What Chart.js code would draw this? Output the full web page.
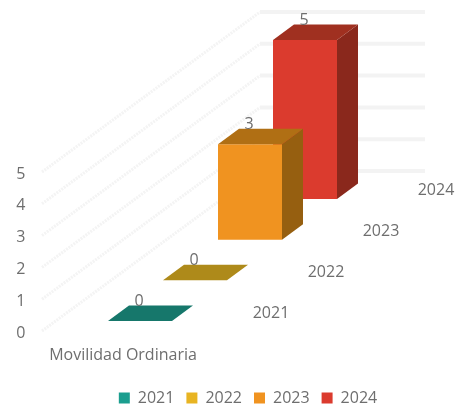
<!DOCTYPE html>
<html lang="es">
<head>
    <meta charset="UTF-8">
    <title>Movilidad Ordinaria</title>
    <script src="https://cdn.jsdelivr.net/npm/chart.js"></script>
    <style>
        body { margin: 0; background: #fff; }
        canvas { display: block; filter: blur(0.4px); }
    </style>
</head>
<body>
<canvas id="grafico" width="460" height="405"></canvas>
<script>
    const categoria = 'Movilidad Ordinaria';
    const anios = ['2021', '2022', '2023', '2024'];
    const valores = [0, 0, 3, 5];
    const colorFrente = ['#1b9e8f', '#e8b422', '#f09320', '#db3b2e'];
    const colorTapa = ['#16776b', '#ae8a1a', '#b06f14', '#a03020'];
    const colorLado = ['#116055', '#8c6f14', '#965f10', '#8a281c'];

    const fuente = '"Open Sans", sans-serif';
    const gris = '#6e6e6e';

    // profundidad del piso por cada anio, en px
    const pasoY = 40.67;
    const inicioY = 10;
    const fondoCaja = { x: 21, y: 15.5 };
    const fondoPiso = { x: 218, y: 160 };

    function desplazamiento(i) {
        return inicioY + pasoY * i;
    }

    const cubos = {
        id: 'cubos',
        afterLayout(chart) {
            // la leyenda va centrada bajo el grafico, no bajo el canvas
            chart.legend.left = 36;
            chart.legend.top = 378;
            chart.legend.bottom = 416;
            // el eje y ocupa de 172 a 331 aunque el layout lo deje mas corto
            const y = chart.scales.y;
            y.top = 172;
            y.bottom = 331;
            y.height = 159;
            y.configure();
            chart.chartArea.bottom = 331;
            chart.chartArea.height = 159;
        },
        beforeDatasetsDraw(chart) {
            const { ctx, scales: { y } } = chart;
            const x0 = 42;
            ctx.save();
            y.ticks.forEach(t => {
                const py = y.getPixelForValue(t.value);
                // linea del piso lateral, punteada y muy clara
                ctx.strokeStyle = '#f4f4f4';
                ctx.lineWidth = 3;
                ctx.setLineDash([2, 1]);
                ctx.beginPath();
                ctx.moveTo(x0, py);
                ctx.lineTo(x0 + fondoPiso.x, py - fondoPiso.y);
                ctx.stroke();
                // linea de la pared del fondo
                ctx.strokeStyle = '#f3f3f3';
                ctx.lineWidth = 4;
                ctx.setLineDash([]);
                ctx.beginPath();
                ctx.moveTo(x0 + fondoPiso.x, py - fondoPiso.y);
                ctx.lineTo(425, py - fondoPiso.y);
                ctx.stroke();
            });
            ctx.restore();
        },
        beforeDatasetDraw(chart, args) {
            chart.ctx.save();
            chart.ctx.translate(0, -desplazamiento(args.index));
        },
        afterDatasetDraw(chart, args) {
            const { ctx } = chart;
            const i = args.index;
            const bar = args.meta.data[i];
            const izq = bar.x - bar.width / 2;
            const der = bar.x + bar.width / 2;
            // lado derecho
            if (bar.base - bar.y > 0) {
                ctx.fillStyle = colorLado[i];
                ctx.beginPath();
                ctx.moveTo(der, bar.y);
                ctx.lineTo(der + fondoCaja.x, bar.y - fondoCaja.y);
                ctx.lineTo(der + fondoCaja.x, bar.base - fondoCaja.y);
                ctx.lineTo(der, bar.base);
                ctx.closePath();
                ctx.fill();
            }
            // tapa
            ctx.fillStyle = colorTapa[i];
            ctx.beginPath();
            ctx.moveTo(izq, bar.y);
            ctx.lineTo(der, bar.y);
            ctx.lineTo(der + fondoCaja.x, bar.y - fondoCaja.y);
            ctx.lineTo(izq + fondoCaja.x, bar.y - fondoCaja.y);
            ctx.closePath();
            ctx.fill();
            ctx.restore();
        },
        afterDatasetsDraw(chart) {
            const { ctx, scales: { x, y } } = chart;
            ctx.save();
            ctx.font = '16px ' + fuente;
            ctx.fillStyle = gris;
            ctx.textBaseline = 'middle';
            ctx.textAlign = 'center';
            anios.forEach((anio, i) => {
                const px = x.getPixelForValue(i);
                const base = y.getPixelForValue(0) - desplazamiento(i);
                // valor sobre la caja
                ctx.fillText(valores[i], px - 1, y.getPixelForValue(valores[i]) - desplazamiento(i) - 20);
                // anio a la derecha, sobre el piso
                ctx.fillText(anio, px + 131, base - 8 - i * 0.3);
            });
            ctx.fillText(categoria, 123, y.getPixelForValue(0) + 24);
            ctx.restore();
        }
    };

    new Chart(document.getElementById('grafico'), {
        type: 'bar',
        data: {
            labels: anios,
            datasets: anios.map((anio, i) => ({
                label: anio,
                data: anios.map((a, j) => (j === i ? valores[i] : null)),
                backgroundColor: colorFrente[i],
                borderWidth: 0,
                clip: false,
                barPercentage: 64 / 55,
                categoryPercentage: 1
            }))
        },
        options: {
            responsive: false,
            animation: false,
            layout: { autoPadding: false, padding: { top: 172 } },
            scales: {
                x: {
                    stacked: true,
                    grid: { display: false },
                    border: { display: false },
                    ticks: { display: false },
                    afterFit(axis) { axis.height = 36; }
                },
                y: {
                    min: 0,
                    max: 5,
                    grid: { display: false },
                    border: { display: false },
                    ticks: { stepSize: 1, padding: 79, labelOffset: 2, color: gris, font: { family: fuente, size: 16 } },
                    afterFit(axis) { axis.width = 112.5; }
                },
                derecha: {
                    position: 'right',
                    grid: { display: false },
                    border: { display: false },
                    ticks: { display: false },
                    afterFit(axis) { axis.width = 127.5; }
                }
            },
            plugins: {
                tooltip: { enabled: false },
                legend: {
                    position: 'bottom',
                    labels: {
                        boxWidth: 11,
                        boxHeight: 11,
                        padding: 12,
                        color: gris,
                        font: { family: fuente, size: 16 }
                    }
                }
            }
        },
        plugins: [cubos]
    });
</script>
</body>
</html>
